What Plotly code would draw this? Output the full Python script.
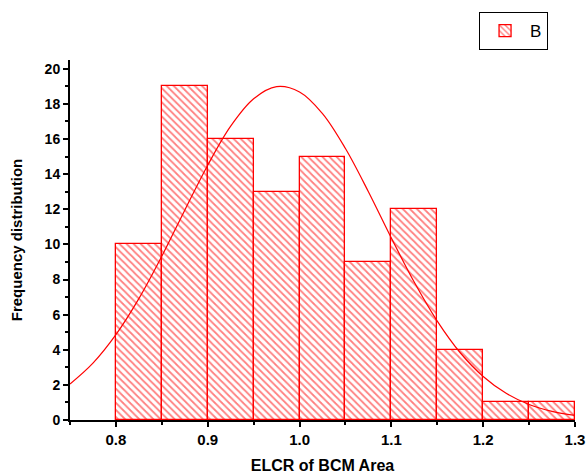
import plotly.graph_objects as go

bin_left = [0.80, 0.85, 0.90, 0.95, 1.00, 1.05, 1.10, 1.15, 1.20, 1.25]
counts = [10, 19, 16, 13, 15, 9, 12, 4, 1, 1]
bin_width = 0.05

curve_x = [0.750, 0.775, 0.800, 0.825, 0.850, 0.875, 0.900, 0.925, 0.950, 0.975,
           1.000, 1.025, 1.050, 1.075, 1.100, 1.125, 1.150, 1.175, 1.200, 1.225,
           1.250, 1.275, 1.300]
curve_y = [2.05, 3.24, 4.86, 6.91, 9.33, 11.95, 14.51, 16.73, 18.29, 18.98,
           18.68, 17.45, 15.46, 13.00, 10.36, 7.84, 5.63, 3.83, 2.48, 1.52,
           0.88, 0.49, 0.26]

x_ticks = [0.8, 0.9, 1.0, 1.1, 1.2, 1.3]
y_ticks = [0, 2, 4, 6, 8, 10, 12, 14, 16, 18, 20]

RED = "#ff0000"
FONT = "Arial, Liberation Sans, sans-serif"

fig = go.Figure()
fig.add_trace(go.Bar(
    x=[b + bin_width / 2 for b in bin_left],
    y=counts,
    width=[bin_width] * len(bin_left),
    name="B",
    marker=dict(
        color="white",
        line=dict(color=RED, width=1.3),
        pattern=dict(shape="\\", fgcolor=RED, bgcolor="white", size=5, solidity=0.35),
    ),
))
fig.add_trace(go.Scatter(
    x=curve_x, y=curve_y, mode="lines", line=dict(color=RED, width=1.2, shape="spline"),
    showlegend=False, hoverinfo="skip",
))

fig.update_layout(
    width=588, height=474,
    margin=dict(l=70, r=13, t=60, b=54, autoexpand=False),
    plot_bgcolor="white", paper_bgcolor="white",
    bargap=0,
    font=dict(family=FONT, color="black"),
    legend=dict(
        x=0.81, y=1.133, xanchor="left", yanchor="top",
        bordercolor="black", borderwidth=1, bgcolor="white",
        font=dict(size=17, family=FONT),
        itemwidth=40,
    ),
    xaxis=dict(
        range=[0.75, 1.3], tickvals=x_ticks, ticktext=[f"{v:.1f}" for v in x_ticks],
        showgrid=False, zeroline=False, showline=True, linecolor="black", linewidth=2,
        ticks="outside", ticklen=5, tickwidth=2, tickcolor="black",
        minor=dict(dtick=0.05, tick0=0.8, ticks="outside", ticklen=3, tickwidth=1.5, tickcolor="black"),
        tickfont=dict(size=15, family=FONT, weight="bold"),
        automargin=False,
        title=dict(text="<b>ELCR of BCM Area</b>", font=dict(size=16, family=FONT), standoff=18),
    ),
    yaxis=dict(
        range=[0, 20.5], tickvals=y_ticks,
        showgrid=False, zeroline=False, showline=True, linecolor="black", linewidth=2,
        ticks="outside", ticklen=5, tickwidth=2, tickcolor="black",
        minor=dict(dtick=1, tick0=0, ticks="outside", ticklen=3, tickwidth=1.5, tickcolor="black"),
        tickfont=dict(size=14, family=FONT, weight="bold"),
        automargin=False,
        title=dict(text="<b>Frequency distribution</b>", font=dict(size=15, family=FONT), standoff=18),
    ),
)

fig.write_html("out.html")
